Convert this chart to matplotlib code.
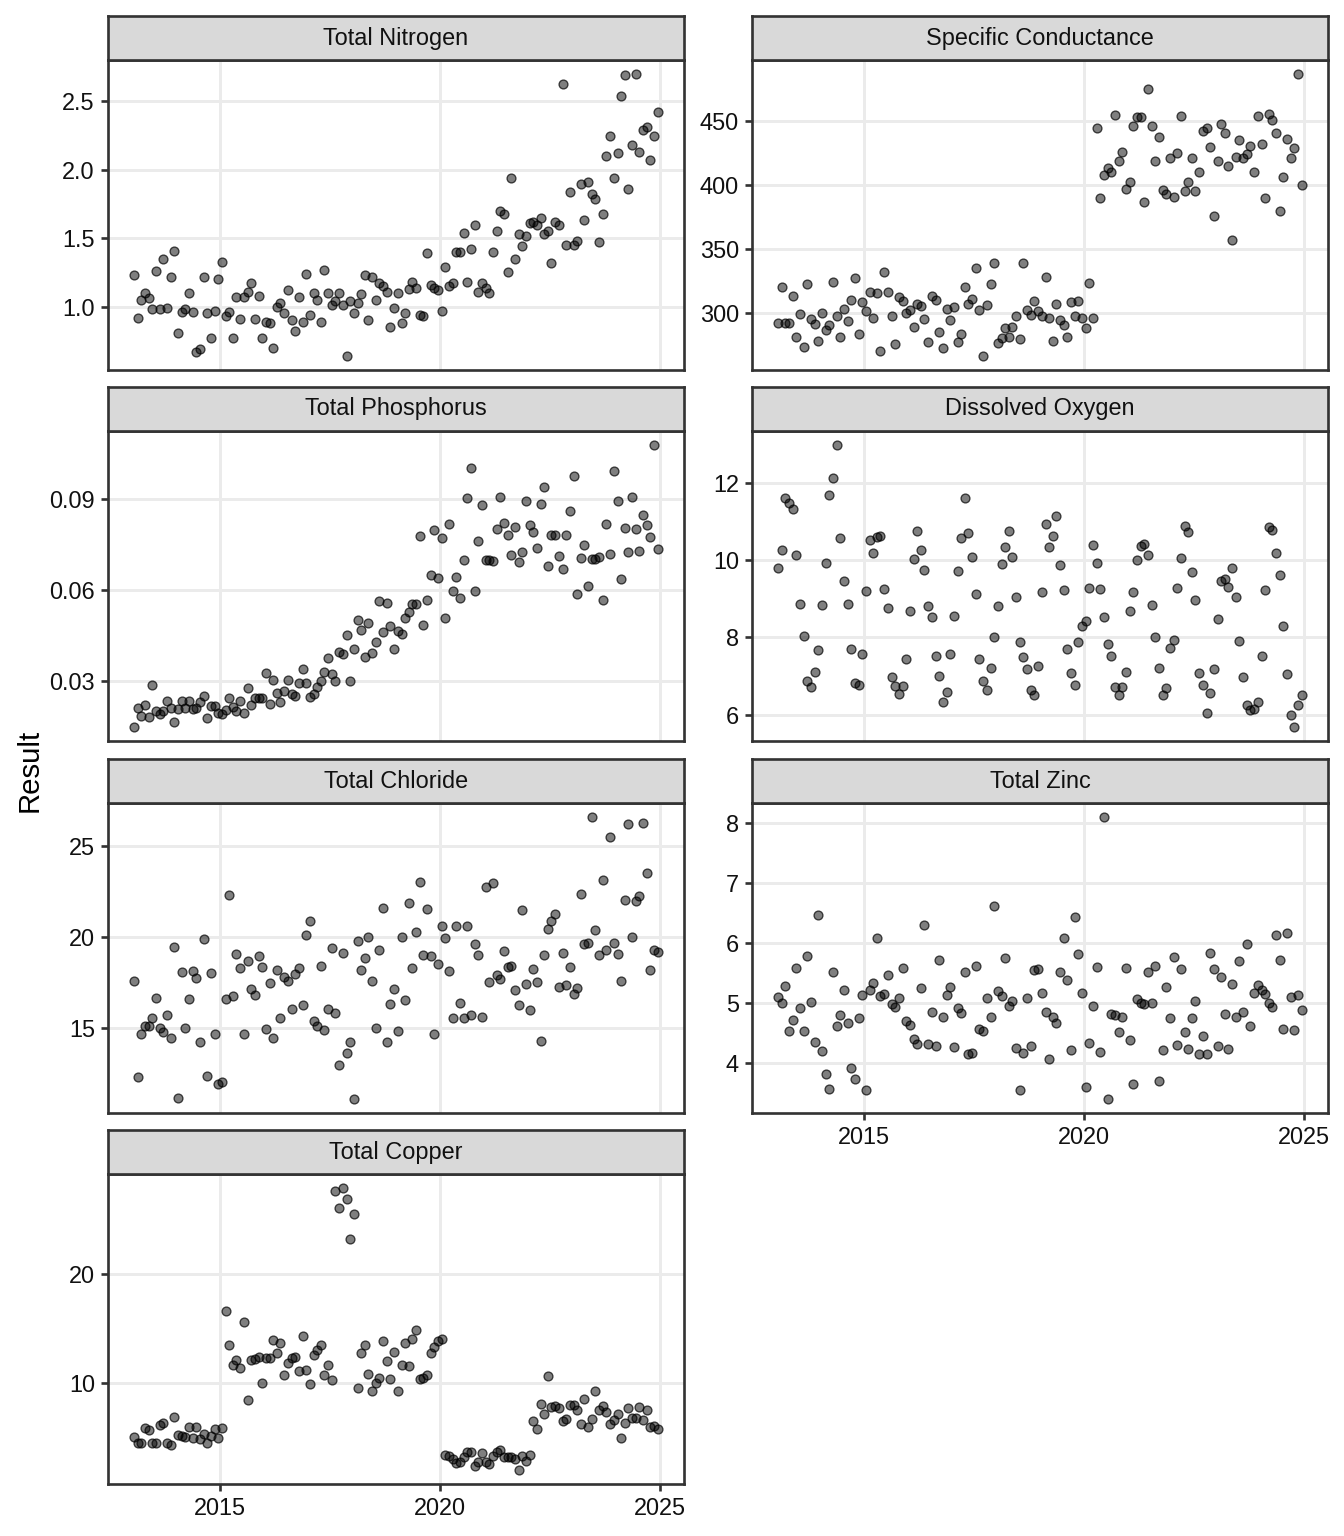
import numpy as np
import pandas as pd
import matplotlib
matplotlib.use("Agg")
from matplotlib import pyplot as plt
import matplotlib.dates as mdates

plt.rcParams['font.family'] = ['Liberation Sans', 'DejaVu Sans']

# monthly samples, Jan 2013 - Dec 2024
dates = pd.date_range("2013-01-01", "2024-12-01", freq="MS") + pd.Timedelta(days=14)

total_nitrogen = [1.23,0.92,1.05,1.10,1.06,0.98,1.26,0.98,1.35,0.99,
    1.22,1.41,0.81,0.96,0.98,1.10,0.96,0.67,0.69,1.22,
    0.95,0.77,0.97,1.20,1.33,0.93,0.96,0.77,1.07,0.91,
    1.07,1.11,1.17,0.91,1.08,0.77,0.89,0.88,0.70,1.00,
    1.03,0.95,1.12,0.90,0.82,1.07,0.89,1.24,0.94,1.10,
    1.05,0.89,1.27,1.10,1.01,1.04,1.10,1.01,0.64,1.04,
    0.95,1.03,1.09,1.23,0.90,1.22,1.05,1.17,1.15,1.11,
    0.85,0.99,1.10,0.88,0.95,1.13,1.18,1.14,0.94,0.93,
    1.39,1.16,1.14,1.12,0.97,1.29,1.15,1.17,1.40,1.40,
    1.54,1.18,1.42,1.60,1.11,1.17,1.14,1.10,1.40,1.55,
    1.70,1.68,1.25,1.94,1.35,1.53,1.44,1.52,1.61,1.62,
    1.60,1.65,1.53,1.55,1.32,1.62,1.60,2.63,1.45,1.84,
    1.45,1.48,1.90,1.63,1.91,1.82,1.79,1.47,1.68,2.10,
    2.25,1.94,2.12,2.54,2.69,1.86,2.18,2.70,2.13,2.29,
    2.31,2.07,2.25,2.42]

specific_conductance = [292,320,292,292,313,281,299,273,322,295,
    291,278,300,286,290,324,297,281,303,293,
    310,327,283,308,301,316,296,315,270,332,
    316,297,275,312,309,300,302,289,307,305,
    295,277,313,310,285,272,303,294,304,277,
    283,320,307,311,335,302,266,306,322,339,
    276,280,288,281,289,297,279,339,302,298,
    309,301,297,328,296,278,307,294,290,281,
    308,297,309,296,288,323,296,445,390,408,
    413,410,455,419,426,397,402,446,453,453,
    387,475,446,419,438,396,393,421,391,425,
    454,395,402,421,395,410,442,445,430,376,
    419,448,441,415,357,422,435,421,424,431,
    410,454,432,390,456,451,441,380,406,436,
    421,429,487,400]

total_phosphorus = [0.0149,0.0212,0.0185,0.0220,0.0182,0.0287,0.0203,0.0193,0.0201,0.0236,
    0.0211,0.0164,0.0209,0.0236,0.0211,0.0236,0.0207,0.0211,0.0231,0.0251,
    0.0180,0.0217,0.0217,0.0196,0.0191,0.0204,0.0246,0.0215,0.0203,0.0236,
    0.0195,0.0276,0.0222,0.0246,0.0246,0.0246,0.0327,0.0223,0.0303,0.0262,
    0.0232,0.0266,0.0304,0.0259,0.0252,0.0293,0.0339,0.0295,0.0247,0.0256,
    0.0282,0.0300,0.0330,0.0376,0.0324,0.0300,0.0397,0.0388,0.0453,0.0302,
    0.0406,0.0503,0.0468,0.0379,0.0492,0.0394,0.0430,0.0563,0.0462,0.0558,
    0.0483,0.0406,0.0464,0.0455,0.0507,0.0529,0.0554,0.0556,0.0780,0.0484,
    0.0569,0.0649,0.0798,0.0642,0.0773,0.0508,0.0817,0.0599,0.0645,0.0575,
    0.0700,0.0904,0.1004,0.0599,0.0763,0.0880,0.0700,0.0700,0.0698,0.0803,
    0.0909,0.0822,0.0782,0.0716,0.0810,0.0694,0.0725,0.0896,0.0815,0.0793,
    0.0739,0.0884,0.0942,0.0679,0.0782,0.0782,0.0713,0.0670,0.0782,0.0863,
    0.0978,0.0589,0.0707,0.0750,0.0613,0.0703,0.0703,0.0710,0.0569,0.0817,
    0.0721,0.0995,0.0893,0.0637,0.0806,0.0726,0.0908,0.0802,0.0731,0.0849,
    0.0815,0.0776,0.1079,0.0736]

dissolved_oxygen = [9.81,10.27,11.61,11.49,11.32,10.13,8.88,8.05,6.86,6.71,
    7.11,7.68,8.84,9.92,11.69,12.14,12.99,10.58,9.47,8.86,
    7.69,6.83,6.77,7.57,9.20,10.54,10.18,10.61,10.62,9.25,
    8.77,6.97,6.74,6.54,6.75,7.43,8.69,10.04,10.77,10.28,
    9.76,8.81,8.52,7.51,6.99,6.32,6.59,7.58,8.56,9.72,
    10.59,11.63,10.72,10.08,9.14,7.43,6.87,6.65,7.20,8.01,
    8.81,9.91,10.35,10.77,10.08,9.06,7.87,7.49,7.17,6.65,
    6.52,7.26,9.19,10.94,10.35,10.64,11.15,9.88,9.24,7.69,
    7.07,6.76,7.89,8.29,8.43,9.28,10.41,9.92,9.25,8.53,
    7.84,7.53,6.71,6.52,6.71,7.10,8.69,9.19,10.02,10.36,
    10.42,10.14,8.83,8.01,7.20,6.51,6.70,7.73,7.94,9.29,
    10.06,10.90,10.73,9.69,8.97,7.08,6.77,6.03,6.56,7.19,
    8.49,9.46,9.51,9.30,9.79,9.06,7.90,6.97,6.25,6.11,
    6.15,6.33,7.52,9.24,10.87,10.78,10.19,9.61,8.30,7.06,
    5.98,5.68,6.25,6.52]

total_chloride = [17.57,12.30,14.64,15.11,15.11,15.53,16.66,15.00,14.76,15.73,
    14.44,19.43,11.17,18.08,14.98,16.58,18.10,17.73,14.22,19.90,
    12.38,18.00,14.69,11.94,12.03,16.57,22.32,16.73,19.06,18.30,
    14.67,18.70,17.15,16.80,18.97,18.33,14.96,17.46,14.45,18.19,
    15.53,17.80,17.60,16.04,17.97,18.31,16.27,20.12,20.85,15.38,
    15.13,18.40,14.91,16.02,19.37,15.80,12.94,19.12,13.63,14.20,
    11.10,19.79,18.19,18.83,19.97,17.55,14.98,19.30,21.61,14.25,
    16.33,17.15,14.82,19.97,16.51,21.85,18.30,20.28,23.03,19.03,
    21.52,18.95,14.67,18.52,20.59,19.95,18.11,15.53,20.59,16.35,
    15.56,20.59,15.71,19.63,18.99,15.60,22.76,17.51,22.94,17.91,
    17.68,19.23,18.35,18.41,17.08,16.28,21.45,17.39,16.00,18.26,
    17.53,14.27,19.00,20.41,20.85,21.23,17.26,19.13,17.33,18.37,
    16.89,17.17,22.36,19.59,19.68,26.58,20.37,19.03,23.11,19.26,
    25.51,19.68,19.04,17.55,22.03,26.18,19.97,21.96,22.27,26.26,
    23.52,18.17,19.28,19.17]

total_zinc = [5.11,5.00,5.29,4.54,4.73,5.59,4.93,4.54,5.79,5.02,
    4.36,6.47,4.20,3.83,3.57,5.52,4.62,4.80,5.23,4.67,
    3.93,3.74,4.76,5.14,3.56,5.23,5.34,6.08,5.13,5.16,
    5.48,4.99,4.94,5.09,5.59,4.70,4.64,4.40,4.33,5.25,
    6.31,4.33,4.86,4.29,5.73,4.77,5.14,5.27,4.28,4.93,
    4.84,5.53,4.16,4.18,5.62,4.58,4.54,5.09,4.77,6.62,
    5.20,5.13,5.75,4.95,5.04,4.26,3.55,4.18,5.09,4.29,
    5.55,5.58,5.18,4.86,4.08,4.78,4.68,5.53,6.09,5.39,
    4.23,6.43,5.82,5.17,3.60,4.34,4.95,5.61,4.19,8.10,
    3.41,4.83,4.81,4.53,4.77,5.59,4.39,3.66,5.08,5.00,
    4.99,5.53,5.00,5.63,3.70,4.23,5.27,4.75,5.77,4.30,
    5.57,4.53,4.24,4.76,5.04,4.16,4.46,4.15,5.83,5.58,
    4.29,5.44,4.82,4.24,5.33,4.77,5.71,4.86,5.98,4.63,
    5.17,5.30,5.23,5.16,5.00,4.94,6.14,5.73,4.57,6.17,
    5.11,4.55,5.14,4.89]

total_copper = [5.05,4.43,4.50,5.87,5.63,4.50,4.50,6.15,6.27,4.50,
    4.25,6.85,5.17,5.11,5.05,5.90,4.89,5.93,4.86,5.32,
    4.43,5.11,5.78,4.89,5.81,16.67,13.46,11.68,12.14,11.41,
    15.60,8.41,12.11,12.17,12.35,9.97,12.29,12.26,13.94,12.78,
    13.70,10.70,11.80,12.26,12.42,11.07,14.34,11.19,9.91,12.57,
    13.06,13.46,10.73,11.68,10.24,27.71,26.09,27.95,26.94,23.27,
    25.57,9.54,12.75,13.52,10.83,9.27,10.00,10.49,13.91,12.02,
    10.34,12.84,9.24,11.68,13.70,11.53,14.04,14.89,10.40,10.43,
    10.76,12.78,13.30,13.85,14.04,3.39,3.27,3.03,2.66,2.72,
    3.18,3.67,3.67,2.39,2.69,3.52,2.69,2.51,3.24,3.64,
    3.79,3.18,3.21,3.18,2.97,1.99,3.27,2.81,3.36,6.48,
    5.75,8.10,7.13,10.64,7.83,7.86,7.65,6.48,6.70,7.95,
    7.95,7.52,6.18,8.56,5.93,6.64,9.24,7.49,7.86,7.31,
    6.18,6.57,7.16,4.92,6.30,7.71,6.79,6.79,7.77,6.57,
    7.55,5.93,6.02,5.75]

panel_names = ["Total Nitrogen", "Specific Conductance", "Total Phosphorus",
               "Dissolved Oxygen", "Total Chloride", "Total Zinc", "Total Copper"]
panel_values = [total_nitrogen, specific_conductance, total_phosphorus,
                dissolved_oxygen, total_chloride, total_zinc, total_copper]
panel_ticks = [[1.0, 1.5, 2.0, 2.5], [300, 350, 400, 450], [0.03, 0.06, 0.09],
               [6, 8, 10, 12], [15, 20, 25], [4, 5, 6, 7, 8], [10, 20]]
panel_fmt = ["{:.1f}", "{:.0f}", "{:.2f}", "{:.0f}", "{:.0f}", "{:.0f}", "{:.0f}"]

W, H = 1344, 1536
fig = plt.figure(figsize=(7, 8), dpi=192)

col_x = [108, 752]
panel_w = 576
row_top = [60, 431, 803, 1174]
panel_h = 310
strip_h = 44

txt_col = '#111111'
line_col = '#333333'
lw = 1.0

for i, (name, vals) in enumerate(zip(panel_names, panel_values)):
    r, c = divmod(i, 2)
    x0 = col_x[c] / W
    y0 = 1 - (row_top[r] + panel_h) / H
    ax = fig.add_axes([x0, y0, panel_w / W, panel_h / H])
    d = dates[:len(vals)]
    ax.scatter(d, vals, s=11, facecolor=(0, 0, 0, 0.5), edgecolor=(0, 0, 0, 0.7),
               linewidths=0.5, zorder=3)
    ax.margins(x=0.05, y=0.05)
    ax.set_yticks(panel_ticks[i])
    ax.set_yticklabels([panel_fmt[i].format(t) for t in panel_ticks[i]])
    ax.xaxis.set_major_locator(mdates.YearLocator(5))
    ax.xaxis.set_major_formatter(mdates.DateFormatter('%Y'))
    ax.grid(True, color='#EBEBEB', lw=1.1)
    ax.set_axisbelow(True)
    for sp in ax.spines.values():
        sp.set_color(line_col)
        sp.set_linewidth(lw)
    ax.tick_params(axis='both', length=2.75, width=lw, color=line_col,
                   labelsize=8.8, labelcolor=txt_col, pad=2.2)
    bottom_panel = (i == 6) or (i == 5)
    if not bottom_panel:
        ax.tick_params(axis='x', bottom=False, labelbottom=False)

    sax = fig.add_axes([x0, y0 + panel_h / H, panel_w / W, strip_h / H])
    sax.set_facecolor('#D9D9D9')
    sax.set_xticks([])
    sax.set_yticks([])
    for sp in sax.spines.values():
        sp.set_color(line_col)
        sp.set_linewidth(lw)
    sax.text(0.5, 0.5, name, ha='center', va='center', fontsize=8.8,
             color=txt_col, transform=sax.transAxes)

fig.text(30 / W, 1 - 770 / H, "Result", rotation=90, ha='center', va='center',
         fontsize=11, color='black')

fig.savefig("out.png", dpi=192)
